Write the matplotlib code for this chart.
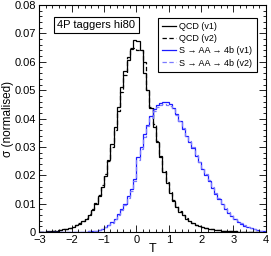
import numpy as np
import matplotlib
matplotlib.use("Agg")
import matplotlib.pyplot as plt
from matplotlib.ticker import MultipleLocator

plt.rcParams['font.family'] = ['Liberation Sans', 'DejaVu Sans']

# bin edges of the T histograms
t_lo, t_hi, n_bins = -3.0, 4.0, 70

qcd_v1 = [0.00005, 0.0001, 0.00015, 0.00025, 0.0004, 0.0005, 0.0007, 0.0009, 0.0011, 0.0014,
          0.0018, 0.0023, 0.0029, 0.0037, 0.0047, 0.0060, 0.0077, 0.0098, 0.0125, 0.0160,
          0.0198, 0.0255, 0.0310, 0.0370, 0.0440, 0.0510, 0.0568, 0.0606, 0.0645, 0.0678,
          0.0672, 0.0640, 0.0560, 0.0500, 0.0437, 0.0370, 0.0318, 0.0265, 0.0211, 0.0172,
          0.0137, 0.0110, 0.0089, 0.0071, 0.0058, 0.0047, 0.0038, 0.0031, 0.0025, 0.0020,
          0.0016, 0.0013, 0.0011, 0.0009, 0.0007, 0.0006, 0.0005, 0.0004, 0.0003, 0.00025,
          0.0002, 0.00015, 0.0001, 0.00008, 0.00006, 0.00004, 0.00003, 0.00002, 0.00001, 0.00001]

qcd_v2 = [0.00005, 0.0001, 0.0002, 0.0003, 0.0004, 0.0006, 0.0008, 0.0010, 0.0012, 0.0015,
          0.0019, 0.0024, 0.0031, 0.0039, 0.0050, 0.0064, 0.0080, 0.0103, 0.0130, 0.0165,
          0.0205, 0.0250, 0.0300, 0.0360, 0.0425, 0.0495, 0.0555, 0.0617, 0.0650, 0.0648,
          0.0643, 0.0640, 0.0600, 0.0500, 0.0440, 0.0380, 0.0320, 0.0268, 0.0215, 0.0175,
          0.0140, 0.0112, 0.0090, 0.0073, 0.0059, 0.0048, 0.0039, 0.0032, 0.0026, 0.0021,
          0.0017, 0.0014, 0.0011, 0.0009, 0.0008, 0.0006, 0.0005, 0.0004, 0.0003, 0.00025,
          0.0002, 0.00015, 0.0001, 0.00008, 0.00006, 0.00004, 0.00003, 0.00002, 0.00001, 0.00001]

sig_v1 = [0, 0, 0, 0, 0, 0, 0, 0, 0, 0.00001,
          0.00002, 0.00003, 0.00005, 0.00007, 0.0001, 0.0002, 0.0003, 0.0005, 0.0008, 0.0012,
          0.0017, 0.0025, 0.0035, 0.0047, 0.0062, 0.0080, 0.0100, 0.0125, 0.0150, 0.0185,
          0.0265, 0.0300, 0.0345, 0.0378, 0.0410, 0.0432, 0.0448, 0.0455, 0.0460, 0.0458,
          0.0450, 0.0437, 0.0415, 0.0390, 0.0362, 0.0338, 0.0318, 0.0295, 0.0268, 0.0245,
          0.0222, 0.0200, 0.0178, 0.0155, 0.0135, 0.0115, 0.0098, 0.0082, 0.0068, 0.0056,
          0.0045, 0.0036, 0.0029, 0.0022, 0.0017, 0.0013, 0.0010, 0.0007, 0.0005, 0.0003]

sig_v2 = [0, 0, 0, 0, 0, 0, 0, 0, 0, 0.00001,
          0.00002, 0.00003, 0.00005, 0.00007, 0.0001, 0.0002, 0.0003, 0.0005, 0.0008, 0.0011,
          0.0016, 0.0023, 0.0033, 0.0045, 0.0058, 0.0076, 0.0096, 0.0120, 0.0145, 0.0178,
          0.0255, 0.0292, 0.0335, 0.0372, 0.0402, 0.0425, 0.0440, 0.0446, 0.0450, 0.0448,
          0.0445, 0.0432, 0.0412, 0.0392, 0.0365, 0.0340, 0.0322, 0.0298, 0.0272, 0.0248,
          0.0225, 0.0203, 0.0182, 0.0158, 0.0138, 0.0118, 0.0100, 0.0084, 0.0070, 0.0058,
          0.0046, 0.0037, 0.0030, 0.0023, 0.0018, 0.0014, 0.0010, 0.0007, 0.0005, 0.0003]

labels = ['QCD (v1)', 'QCD (v2)', 'S \u2192 AA \u2192 4b (v1)', 'S \u2192 AA \u2192 4b (v2)']
ytick_labels = ['0', '0.01', '0.02', '0.03', '0.04', '0.05', '0.06', '0.07', '0.08']

edges = np.linspace(t_lo, t_hi, n_bins + 1)

fig = plt.figure(figsize=(2.71, 2.56), dpi=100)
ax = fig.add_axes([0.145, 0.094, 0.836, 0.886])

dash = (0, (3.5, 2))
ax.stairs(qcd_v1, edges, color='black', lw=0.9, label=labels[0])
ax.stairs(qcd_v2, edges, color='black', lw=0.9, ls=dash, label=labels[1])
ax.stairs(sig_v1, edges, color='#1a1aff', lw=0.9, label=labels[2])
ax.stairs(sig_v2, edges, color='#7a7aff', lw=0.9, ls=dash, label=labels[3])

ax.set_xlim(-3, 4)
ax.set_ylim(0, 0.08)
ax.xaxis.set_major_locator(MultipleLocator(1))
ax.xaxis.set_minor_locator(MultipleLocator(0.2))
ax.set_yticks(np.arange(0, 0.081, 0.01))
ax.set_yticklabels(ytick_labels)
ax.yaxis.set_minor_locator(MultipleLocator(0.002))
ax.tick_params(which='both', direction='in', top=True, right=True, labelsize=8)
ax.tick_params(axis='x', pad=2)
ax.tick_params(axis='y', pad=2.5)
ax.tick_params(which='major', length=5, width=0.6)
ax.tick_params(which='minor', length=2.5, width=0.6)
for s in ax.spines.values():
    s.set_linewidth(0.8)

ax.set_xlabel('T', fontsize=9, labelpad=-1)
ax.set_ylabel('\u03c3 (normalised)', fontsize=8.5)
ax.yaxis.set_label_coords(-0.112, 0.5)

ax.text(0.08, 0.913, '4P taggers hi80', transform=ax.transAxes, fontsize=8,
        va='center', ha='left',
        bbox=dict(boxstyle='square,pad=0.3', fc='white', ec='black', lw=0.8))

leg = ax.legend(loc='upper right', bbox_to_anchor=(0.96, 0.945), fontsize=6.5,
                handlelength=1.5, handletextpad=0.4, borderpad=0.5, labelspacing=0.35,
                fancybox=False, framealpha=1, edgecolor='black', borderaxespad=0)
leg.get_frame().set_linewidth(0.8)

fig.savefig('out.png', dpi=100)
